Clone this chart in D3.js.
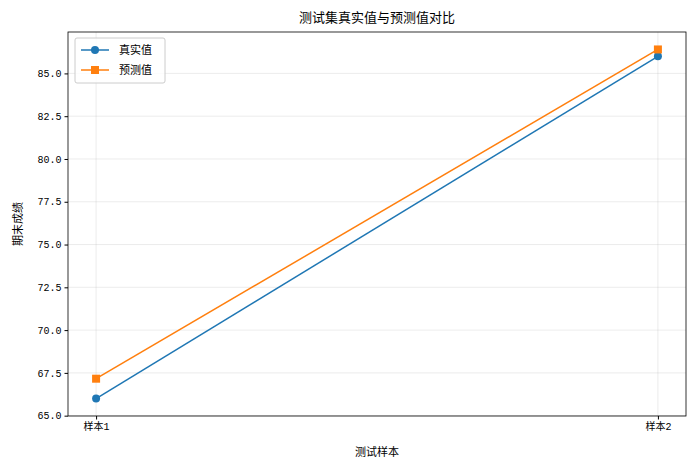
<!DOCTYPE html>
<html><head><meta charset="utf-8">
<script src="https://cdn.jsdelivr.net/npm/d3@7"></script>
<style>
body{margin:0;background:#fff}
text{font-family:"Liberation Mono","Noto Sans CJK SC",monospace}
</style></head>
<body><svg id="chart" width="696" height="469"></svg>
<script>
var categories = ["样本1", "样本2"];
var trueValues = [66.0, 86.0];
var predValues = [67.16, 86.4];
var yTicks = [65.0, 67.5, 70.0, 72.5, 75.0, 77.5, 80.0, 82.5, 85.0];

var svg = d3.select("#chart");
var m = {l: 68, r: 10, t: 32, b: 53};
var W = 696 - m.l - m.r, H = 469 - m.t - m.b;
var g = svg.append("g").attr("transform", "translate(" + m.l + "," + m.t + ")");

var x = d3.scaleLinear().domain([-0.05, 1.05]).range([0, W]);
var y = d3.scaleLinear().domain([64.98, 87.42]).range([H, 0]);

// grid
g.selectAll(".gx").data([0, 1]).enter().append("line")
  .attr("x1", d => x(d)).attr("x2", d => x(d)).attr("y1", 0).attr("y2", H)
  .attr("stroke", "#b0b0b0").attr("stroke-opacity", 0.3).attr("stroke-width", 0.8);
g.selectAll(".gy").data(yTicks).enter().append("line")
  .attr("y1", d => y(d)).attr("y2", d => y(d)).attr("x1", 0).attr("x2", W)
  .attr("stroke", "#b0b0b0").attr("stroke-opacity", 0.3).attr("stroke-width", 0.8);

var xa = g.append("g").attr("transform", "translate(0," + H + ")")
  .call(d3.axisBottom(x).tickValues([0, 1]).tickFormat((d, i) => categories[i]).tickSize(3.5).tickPadding(3));
var ya = g.append("g")
  .call(d3.axisLeft(y).tickValues(yTicks).tickFormat(d3.format(".1f")).tickSize(3.5).tickPadding(3));
[xa, ya].forEach(a => { a.selectAll("text").attr("font-size", 10).attr("fill", "#000"); a.select(".domain").remove(); });

g.append("rect").attr("width", W).attr("height", H).attr("fill", "none").attr("stroke", "#000").attr("stroke-width", 0.8);

var line = d3.line().x((d, i) => x(i)).y(d => y(d));
var series = [
  {name: "真实值", vals: trueValues, color: "#1f77b4", marker: "circle"},
  {name: "预测值", vals: predValues, color: "#ff7f0e", marker: "square"}
];
series.forEach(s => {
  g.append("path").datum(s.vals).attr("d", line).attr("fill", "none").attr("stroke", s.color).attr("stroke-width", 1.5);
  s.vals.forEach((v, i) => {
    if (s.marker === "circle") g.append("circle").attr("cx", x(i)).attr("cy", y(v)).attr("r", 4).attr("fill", s.color);
    else g.append("rect").attr("x", x(i) - 4).attr("y", y(v) - 4).attr("width", 8).attr("height", 8).attr("fill", s.color);
  });
});

// legend
var lg = g.append("g").attr("transform", "translate(7,6)");
lg.append("rect").attr("width", 90).attr("height", 45).attr("rx", 2).attr("fill", "#fff").attr("fill-opacity", 0.8)
  .attr("stroke", "#ccc");
series.forEach((s, i) => {
  var yy = 12 + i * 20;
  lg.append("line").attr("x1", 6).attr("x2", 34).attr("y1", yy).attr("y2", yy).attr("stroke", s.color).attr("stroke-width", 1.5);
  if (s.marker === "circle") lg.append("circle").attr("cx", 20).attr("cy", yy).attr("r", 4).attr("fill", s.color);
  else lg.append("rect").attr("x", 16).attr("y", yy - 4).attr("width", 8).attr("height", 8).attr("fill", s.color);
  lg.append("text").attr("x", 44).attr("y", yy + 4).attr("font-size", 11).text(s.name);
});

svg.append("text").attr("x", m.l + W / 2).attr("y", 22).attr("text-anchor", "middle").attr("font-size", 13).text("测试集真实值与预测值对比");
svg.append("text").attr("x", m.l + W / 2).attr("y", 456).attr("text-anchor", "middle").attr("font-size", 11).text("测试样本");
svg.append("text").attr("transform", "translate(22," + (m.t + H / 2) + ") rotate(-90)").attr("text-anchor", "middle").attr("font-size", 11).text("期末成绩");
</script></body></html>
